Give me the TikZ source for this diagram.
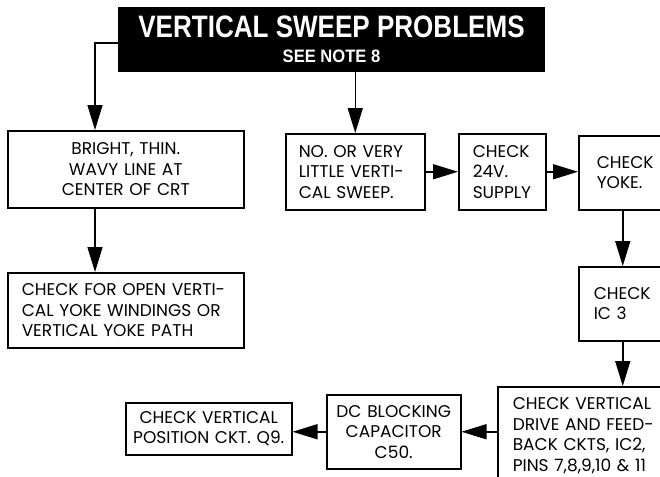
\documentclass[tikz,border=0pt]{standalone}
\usepackage{fontspec}
\setmainfont{Poppins}
\newfontfamily\titlefont{Liberation Sans}
\usetikzlibrary{arrows.meta}
\newcommand\boxfont{\fontsize{17}{20.5}\selectfont}
\newcommand\squeeze[2]{\scalebox{#1}[1]{#2}}

\begin{document}
\begin{tikzpicture}[x=1pt,y=-1pt,
  box/.style={draw, line width=1.5pt, inner xsep=14pt, inner ysep=0pt, font=\boxfont, align=left, anchor=north west},
  cbox/.style={box, align=center},
  arr/.style={-{Triangle[length=25pt,width=15pt]}, line width=1.5pt}]
\useasboundingbox (0,0) rectangle (660,476);
\clip (0,0) rectangle (660,476);
% title
\node [fill=black, text=white, minimum width=427pt, minimum height=65pt, inner sep=0pt, align=center,
  font=\titlefont\bfseries\fontsize{18}{25}\selectfont] (title) at (331.5,39.5)
  {\squeeze{0.84}{\fontsize{31}{31}\selectfont VERTICAL SWEEP PROBLEMS}\\\squeeze{0.92}{SEE NOTE 8}};
% left branch
\node [cbox, text width=208pt, minimum height=77pt] (bright) at (7,130) {BRIGHT, THIN.\\WAVY LINE AT\\CENTER OF CRT};
\node [box, text width=208pt, minimum height=75pt] (open) at (7,272) {CHECK FOR OPEN VERTI-\\CAL YOKE WINDINGS OR\\VERTICAL YOKE PATH};
% right branch
\node [box, inner xsep=13pt, text width=113pt, minimum height=76pt] (novery) at (285,133) {NO. OR VERY\\LITTLE VERTI-\\CAL SWEEP.};
\node [box, text width=59pt, minimum height=76pt] (check24) at (458,133) {CHECK\\24V.\\SUPPLY};
\node [box, inner xsep=18pt, text width=52pt, minimum height=74pt] (yoke) at (578,135) {CHECK\\YOKE.};
\node [box, inner xsep=15pt, text width=58pt, minimum height=74pt] (ic3) at (578,266) {CHECK\\IC 3};
\node [box, inner xsep=15pt, text width=170pt, minimum height=98pt] (drive) at (497,386) {CHECK VERTICAL\\DRIVE AND FEED-\\BACK CKTS, IC2,\\PINS 7,8,9,10 \& 11};
\node [cbox, inner xsep=6pt, text width=122pt, minimum height=74pt] (dc) at (326,394) {DC BLOCKING\\CAPACITOR\\C50.};
\node [cbox, inner xsep=6pt, text width=154pt, minimum height=52pt] (q9) at (125,402) {CHECK VERTICAL\\POSITION CKT. Q9.};
% arrows
\coordinate (elbow) at (95,43);
\draw [arr] (title.west |- elbow) -- (elbow) -- (elbow |- bright.north);
\draw [arr] (elbow |- bright.south) -- (elbow |- open.north);
\draw [arr] (title.south -| novery.north) -- (novery.north);
\draw [arr] (novery.east) -- (novery.east -| check24.west);
\draw [arr] (check24.east) -- (check24.east -| yoke.west);
\draw [arr] (yoke.south) -- (ic3.north);
\draw [arr] (ic3.south) -- (ic3.south |- drive.north);
\draw [arr] (dc.east -| drive.west) -- (dc.east);
\draw [arr] (dc.west) -- (dc.west -| q9.east);
\end{tikzpicture}
\end{document}
